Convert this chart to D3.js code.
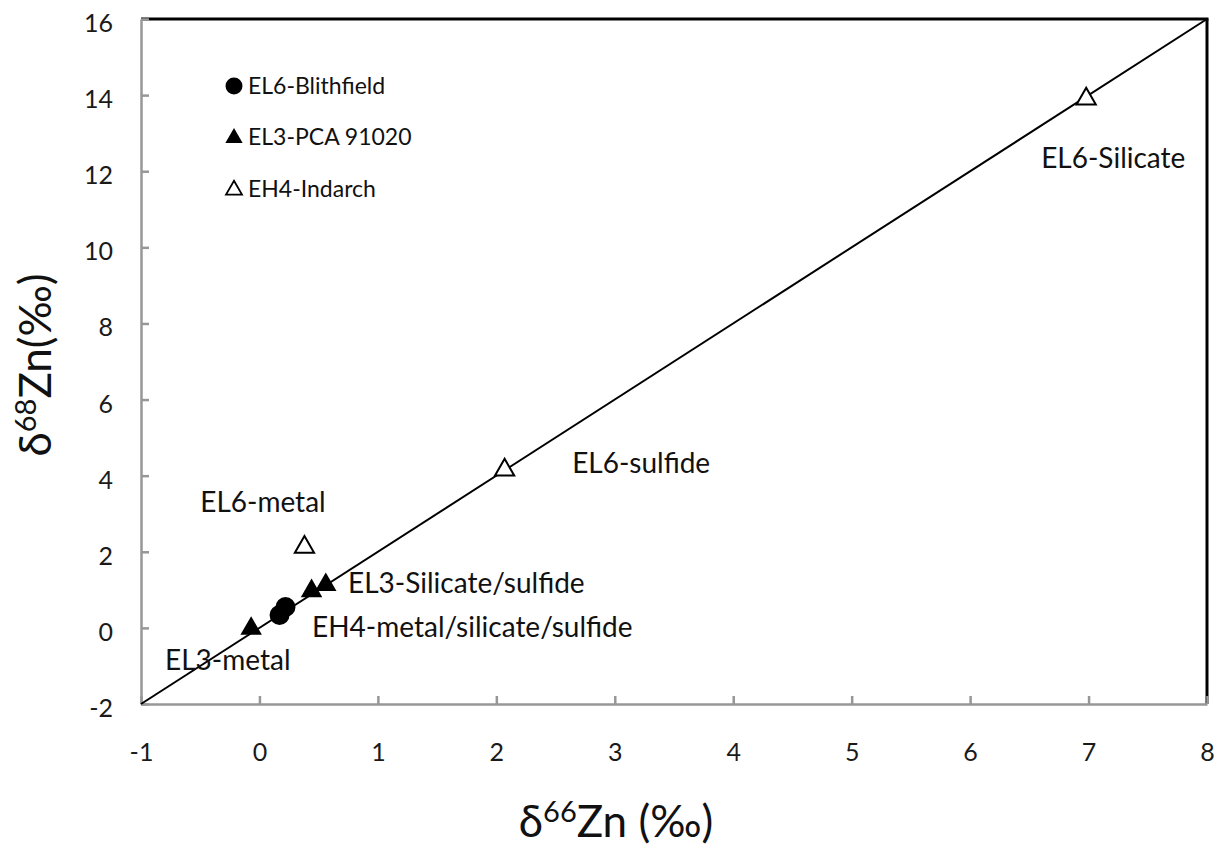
<!DOCTYPE html>
<html>
<head>
<meta charset="utf-8">
<script src="https://cdn.jsdelivr.net/npm/d3@7"></script>
<style>
  html, body { margin: 0; padding: 0; background: #fff; }
  svg { display: block; font-family: "Lato", "Open Sans", sans-serif; }
</style>
</head>
<body>
<svg id="chart" width="1220" height="848"></svg>
<script>
// Zn isotope data (δ66Zn, δ68Zn in ‰) for enstatite chondrite fractions
const blithfieldX = [0.22, 0.17];
const blithfieldY = [0.55, 0.34];

const pcaX = [-0.07, 0.44, 0.56];
const pcaY = [-0.02, 0.97, 1.13];

const indarchX = [0.38, 2.07, 6.98];
const indarchY = [2.12, 4.15, 13.9];

const xTicks = [-1, 0, 1, 2, 3, 4, 5, 6, 7, 8];
const yTicks = [-2, 0, 2, 4, 6, 8, 10, 12, 14, 16];

// Mass-dependent fractionation line δ68 = 2·δ66
const lineX = [-1, 8];
const lineY = [-2, 16];

// Annotations, anchored at their left baseline in data units
const labelText = ["EL6-Silicate", "EL6-sulfide", "EL6-metal", "EL3-Silicate/sulfide", "EH4-metal/silicate/sulfide", "EL3-metal"];
const labelX = [6.60, 2.64, -0.50, 0.748, 0.444, -0.797];
const labelY = [12.08, 4.07, 3.04, 0.92, -0.24, -1.107];

const legendNames = ["EL6-Blithfield", "EL3-PCA 91020", "EH4-Indarch"];

const svg = d3.select("#chart");
const x = d3.scaleLinear().domain([-1, 8]).range([141, 1207]);
const y = d3.scaleLinear().domain([-2, 16]).range([704, 19]);

// Frame: black top and right edges
svg.append("line").attr("x1", x(-1)).attr("x2", x(8) + 1.5).attr("y1", y(16)).attr("y2", y(16))
  .attr("stroke", "#000").attr("stroke-width", 3);
svg.append("line").attr("x1", x(8)).attr("x2", x(8)).attr("y1", y(16)).attr("y2", y(-2))
  .attr("stroke", "#000").attr("stroke-width", 3);

// Axes (grey, ticks pointing inward)
const fmt = d => String(d);
const xAxis = d3.axisBottom(x).tickValues(xTicks).tickSizeInner(-8).tickSizeOuter(0).tickFormat(fmt);
const yAxis = d3.axisLeft(y).tickValues(yTicks).tickSizeInner(-8).tickSizeOuter(0).tickFormat(fmt);

const gx = svg.append("g").attr("transform", `translate(0,${y(-2)})`).call(xAxis);
const gy = svg.append("g").attr("transform", `translate(${x(-1)},0)`).call(yAxis);
[gx, gy].forEach(g => {
  g.attr("font-family", null).attr("font-size", 25);
  g.select(".domain").attr("stroke", "#979797").attr("stroke-width", 2.5);
  g.selectAll(".tick line").attr("stroke", "#979797").attr("stroke-width", 2.5);
  g.selectAll(".tick text").attr("fill", "#1a1a1a").style("font-size", "25px");
});
gx.selectAll(".tick text").attr("y", 48).attr("dy", "0.35em");
gy.selectAll(".tick text").attr("x", -28).attr("dy", "0.5em");

// 2:1 line
svg.append("line")
  .attr("x1", x(lineX[0])).attr("y1", y(lineY[0]))
  .attr("x2", x(lineX[1])).attr("y2", y(lineY[1]))
  .attr("stroke", "#000").attr("stroke-width", 2);

const triUp = d3.symbol().type(d3.symbolTriangle);

// Indarch: open triangles
svg.append("g").selectAll("path").data(indarchX.map((v, i) => [v, indarchY[i]])).join("path")
  .attr("d", triUp.size(160)())
  .attr("transform", d => `translate(${x(d[0])},${y(d[1])})`)
  .attr("fill", "#fff").attr("stroke", "#000").attr("stroke-width", 2);

// PCA 91020: filled triangles
svg.append("g").selectAll("path").data(pcaX.map((v, i) => [v, pcaY[i]])).join("path")
  .attr("d", triUp.size(200)())
  .attr("transform", d => `translate(${x(d[0])},${y(d[1])})`)
  .attr("fill", "#000");

// Blithfield: filled circles
svg.append("g").selectAll("circle").data(blithfieldX.map((v, i) => [v, blithfieldY[i]])).join("circle")
  .attr("cx", d => x(d[0])).attr("cy", d => y(d[1])).attr("r", 10)
  .attr("fill", "#000");

// Point labels
svg.append("g").selectAll("text").data(labelText).join("text")
  .attr("x", (d, i) => x(labelX[i])).attr("y", (d, i) => y(labelY[i]))
  .attr("font-size", 28).attr("fill", "#111")
  .text(d => d);

// Legend
const legY = [86, 137, 189];
const leg = svg.append("g");
leg.append("circle").attr("cx", 234).attr("cy", legY[0]).attr("r", 8.5).attr("fill", "#000");
leg.append("path").attr("d", triUp.size(130)()).attr("transform", `translate(234,${legY[1] + 1})`).attr("fill", "#000");
leg.append("path").attr("d", triUp.size(110)()).attr("transform", `translate(234,${legY[2] + 1})`)
  .attr("fill", "#fff").attr("stroke", "#000").attr("stroke-width", 1.8);
leg.selectAll("text").data(legendNames).join("text")
  .attr("x", 248).attr("y", (d, i) => legY[i]).attr("dy", "0.36em")
  .attr("font-size", 23).attr("fill", "#111").text(d => d);

// Axis titles
const xt = svg.append("text").attr("x", 616).attr("y", 837).attr("text-anchor", "middle")
  .attr("font-size", 44).attr("fill", "#111");
xt.append("tspan").text("δ");
xt.append("tspan").attr("font-size", 29).attr("dy", -15).text("66");
xt.append("tspan").attr("dy", 15).text("Zn (‰)");

const yt = svg.append("text").attr("transform", "translate(51,365) rotate(-90)").attr("text-anchor", "middle")
  .attr("font-size", 44).attr("fill", "#111");
yt.append("tspan").text("δ");
yt.append("tspan").attr("font-size", 29).attr("dy", -15).text("68");
yt.append("tspan").attr("dy", 15).text("Zn(‰)");
</script>
</body>
</html>
